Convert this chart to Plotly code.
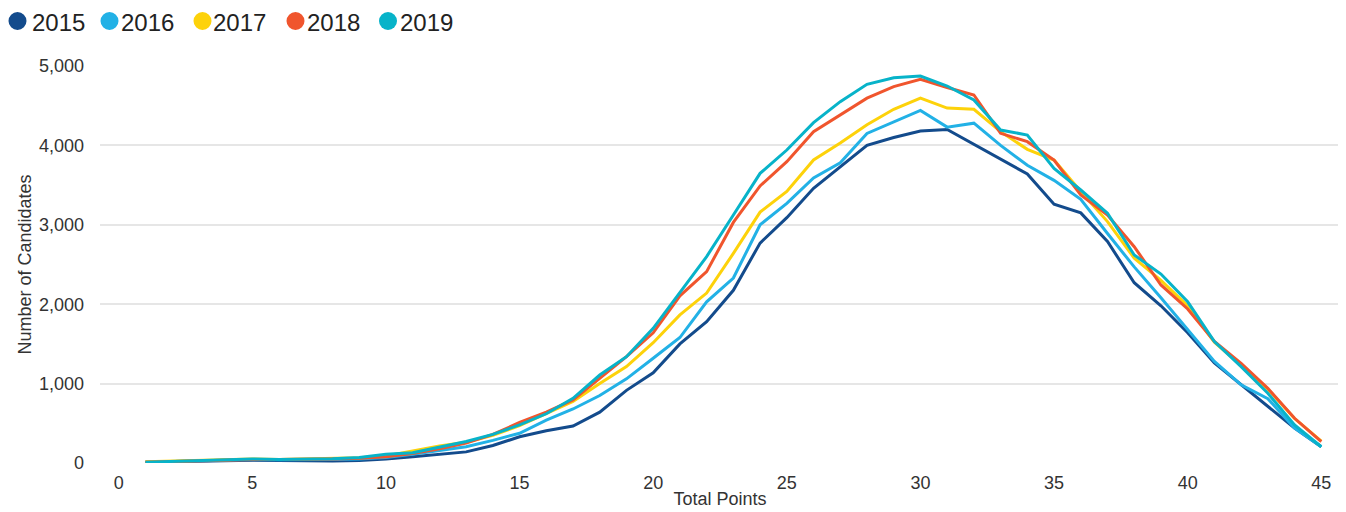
import plotly.graph_objects as go

points = list(range(1, 46))

y2015 = [10, 15, 25, 30, 35, 30, 25, 25, 30, 50, 80, 110, 140, 220, 330, 405, 466, 640, 915, 1135,
         1500, 1780, 2175, 2770, 3090, 3460, 3730, 4000, 4100, 4180, 4200, 4010, 3830, 3640, 3260,
         3150, 2790, 2270, 1980, 1640, 1260, 985, 710, 440, 205]
y2016 = [10, 20, 30, 40, 45, 40, 40, 45, 50, 70, 110, 160, 205, 285, 375, 540, 680, 850, 1060, 1320,
         1580, 2030, 2330, 3000, 3270, 3590, 3780, 4150, 4290, 4440, 4230, 4280, 4000, 3750, 3560,
         3320, 2890, 2470, 2080, 1680, 1280, 985, 810, 440, 205]
y2017 = [15, 25, 35, 45, 50, 45, 50, 55, 65, 90, 150, 215, 260, 350, 470, 620, 775, 1000, 1215, 1515,
         1865, 2140, 2640, 3160, 3420, 3816, 4030, 4260, 4455, 4595, 4470, 4455, 4173, 3950, 3816,
         3420, 3040, 2580, 2300, 1980, 1520, 1230, 930, 560, 275]
y2018 = [10, 20, 30, 40, 45, 45, 45, 50, 60, 80, 120, 180, 250, 360, 510, 640, 795, 1065, 1340, 1640,
         2105, 2410, 3030, 3490, 3795, 4173, 4385, 4595, 4740, 4832, 4730, 4635, 4152, 4047, 3816,
         3375, 3123, 2724, 2242, 1940, 1530, 1256, 941, 563, 269]
y2019 = [10, 20, 35, 45, 50, 45, 50, 55, 70, 110, 130, 200, 270, 360, 480, 620, 814, 1108, 1339, 1696,
         2150, 2600, 3123, 3648, 3942, 4286, 4551, 4769, 4853, 4874, 4748, 4572, 4194, 4131, 3711,
         3438, 3145, 2620, 2380, 2030, 1530, 1213, 878, 479, 205]

series_names = ["2015", "2016", "2017", "2018", "2019"]
series_values = [y2015, y2016, y2017, y2018, y2019]
series_colors = ["#134B8C", "#22B1E6", "#FDD20A", "#F0552D", "#07B3C9"]

# figure geometry (pixels)
W, H = 1338, 504
L, R, T, B = 92, 6, 58, 49
PW, PH = W - L - R, H - T - B

def px_x(px):
    return (px - L) / PW

def px_y(py):
    return (H - B - py) / PH

fig = go.Figure()
for name, ys, color in zip(series_names, series_values, series_colors):
    fig.add_trace(go.Scatter(x=points, y=ys, mode="lines", name=name,
                             line=dict(color=color, width=3), showlegend=False))

# custom legend: filled circles + text labels
legend_circle_x = [9.5, 101.5, 194.5, 287.5, 380]
legend_text_x = [22, 111, 203, 297, 390]
for name, color, cx, tx in zip(series_names, series_colors, legend_circle_x, legend_text_x):
    fig.add_shape(type="circle", xref="paper", yref="paper",
                  xsizemode="pixel", ysizemode="pixel",
                  xanchor=px_x(cx), yanchor=px_y(13),
                  x0=-9, x1=9, y0=-9, y1=9,
                  fillcolor=color, line=dict(width=0))
    fig.add_annotation(text=name, xref="paper", yref="paper",
                       x=px_x(tx), y=px_y(14), xanchor="left", yanchor="middle",
                       showarrow=False, font=dict(size=24, color="#222222"))

fig.update_layout(
    width=W, height=H,
    margin=dict(l=L, r=R, t=T, b=B),
    paper_bgcolor="white", plot_bgcolor="white",
    font=dict(family="Liberation Sans, Arial, sans-serif", color="#333333", size=18),
    showlegend=False,
    xaxis=dict(range=[-0.7, 45.7], tickmode="linear", tick0=0, dtick=5, showgrid=False,
               zeroline=False, showline=False, ticks="", automargin=False,
               ticklabelstandoff=7,
               title=dict(text="Total Points", standoff=0, font=dict(size=18)),
               tickfont=dict(size=18)),
    yaxis=dict(range=[0, 5000], tickmode="linear", tick0=0, dtick=1000, tickformat=",",
               showgrid=True, gridcolor="#E6E6E6", gridwidth=1.5, zeroline=False,
               showline=False, ticks="", ticklabelstandoff=15, automargin=False,
               title=dict(text="Number of Candidates", standoff=2, font=dict(size=18)),
               tickfont=dict(size=18)),
)

fig.write_html("out.html")
